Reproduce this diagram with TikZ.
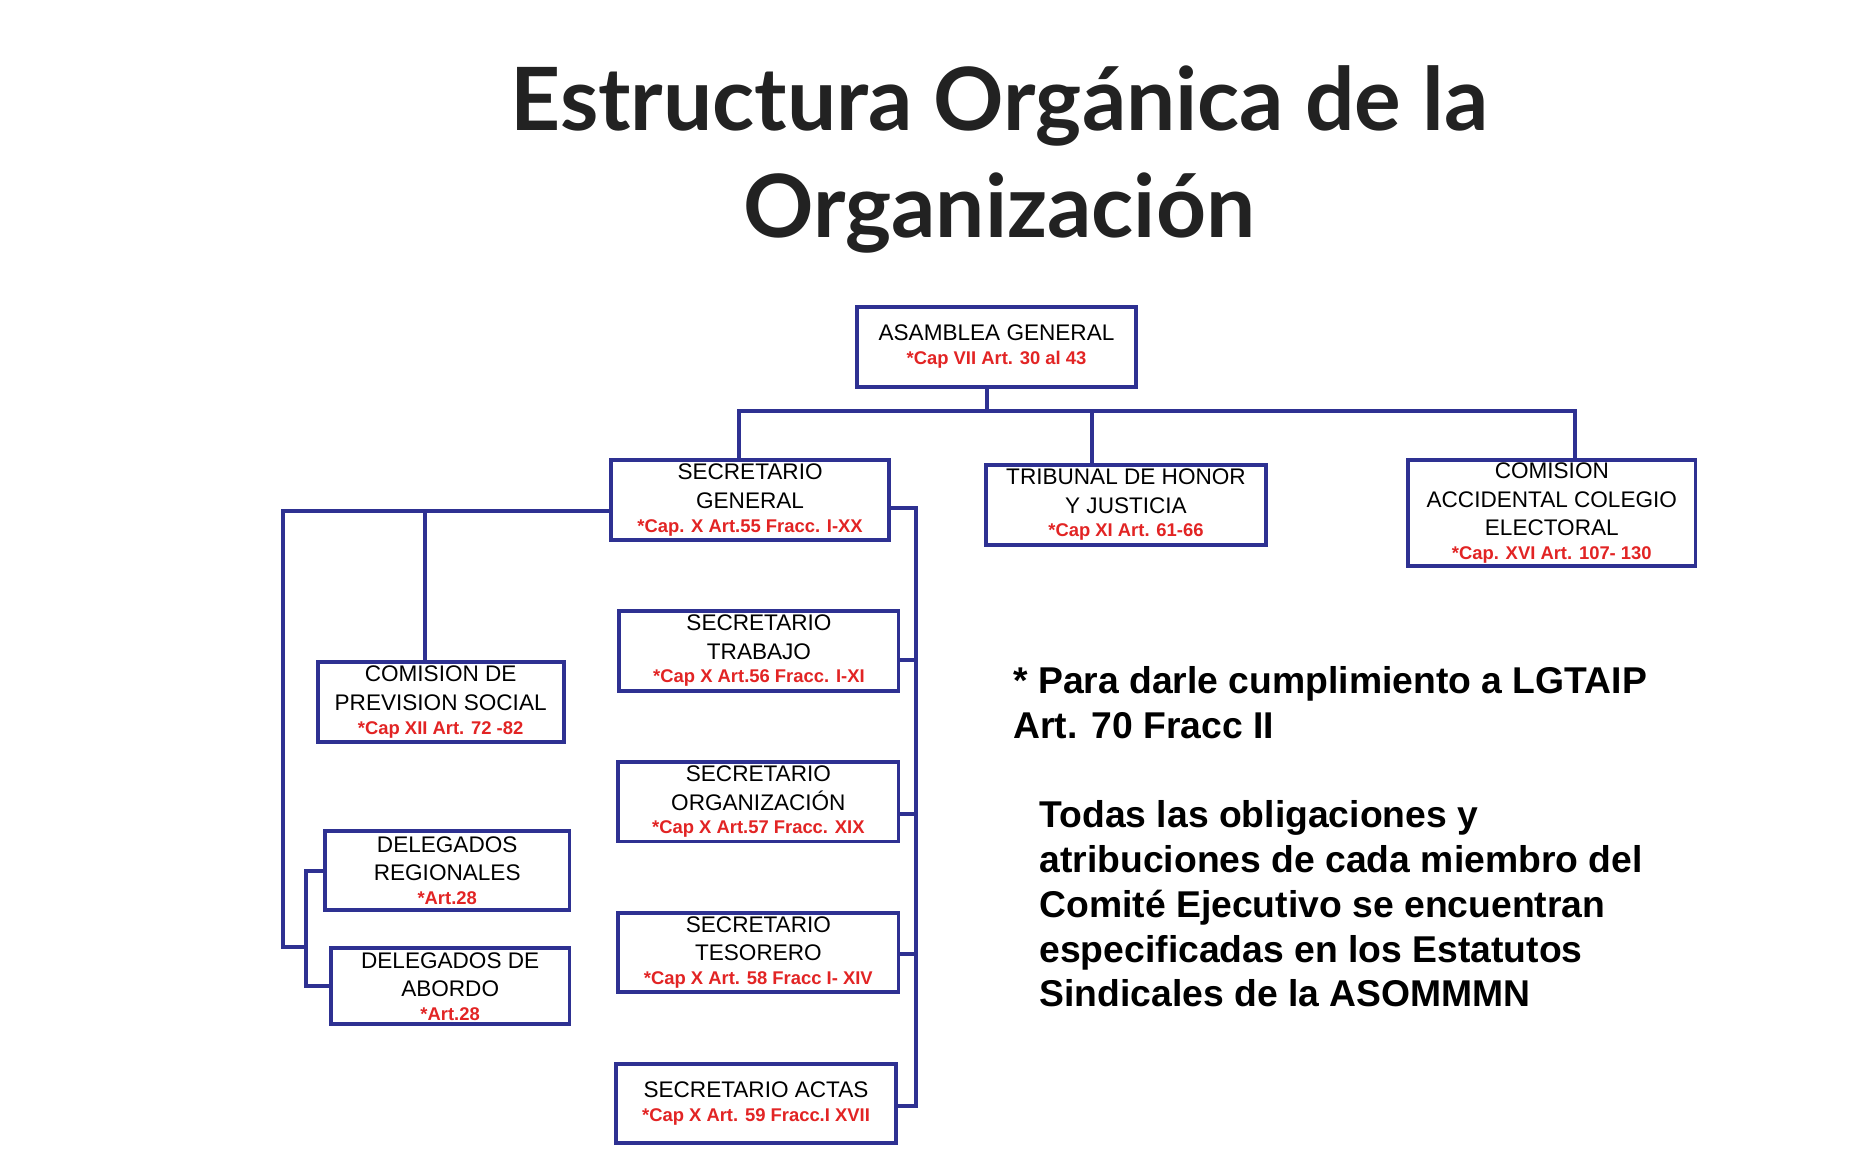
\documentclass[tikz,border=0pt]{standalone}
\usepackage{fontspec}
\setmainfont{Liberation Sans}
\newfontfamily\titlefont{Lato}
\definecolor{navy}{RGB}{46,49,146}
\definecolor{redtext}{RGB}{226,36,36}
\definecolor{titlegray}{RGB}{34,34,34}
\newcommand{\art}[1]{{\bfseries\fontsize{15.5}{19}\selectfont\color{redtext}#1}}

\begin{document}
\begin{tikzpicture}[x=1pt,y=1pt,
    box/.style={draw=navy,line width=3.3pt,fill=white,align=center,inner sep=0pt,
      minimum height=67pt,font=\fontsize{19}{24}\selectfont},
    link/.style={draw=navy,line width=3.3pt},
    note/.style={font=\bfseries\fontsize{31.4}{37.7}\selectfont,align=left,anchor=base west,inner sep=0pt}]

      \useasboundingbox (0,0) rectangle (1566,-985.1);

      \node[font=\titlefont\bfseries\fontsize{73.5}{90}\selectfont,text=titlegray,align=center,anchor=base]
        (title) at (841.5,-200) {Estructura Orgánica de la\\Organización};

      % top level
      \node[box,minimum width=235pt] (asamblea) at (839,-292) {ASAMBLEA GENERAL\\[-4pt]\art{*Cap VII Art. 30 al 43}};
      \node[box,minimum width=234pt] (secgen) at (631.5,-421) {SECRETARIO\\GENERAL\\[-4pt]\art{*Cap. X Art.55 Fracc. I-XX}};
      \node[box,minimum width=235pt] (tribunal) at (948,-425) {TRIBUNAL DE HONOR\\Y JUSTICIA\\[-4pt]\art{*Cap XI Art. 61-66}};
      \node[box,minimum width=242pt,minimum height=89pt] (colegio) at (1306.5,-432) {COMISION\\ACCIDENTAL COLEGIO\\ELECTORAL\\[-4pt]\art{*Cap. XVI Art. 107- 130}};

      % secretarios
      \node[box,minimum width=235pt] (trabajo) at (639,-548) {SECRETARIO\\TRABAJO\\[-4pt]\art{*Cap X Art.56 Fracc. I-XI}};
      \node[box,minimum width=236pt] (organizacion) at (638.5,-675) {SECRETARIO\\ORGANIZACIÓN\\[-4pt]\art{*Cap X Art.57 Fracc. XIX}};
      \node[box,minimum width=236pt] (tesorero) at (638.5,-802) {SECRETARIO\\TESORERO\\[-4pt]\art{*Cap X Art. 58 Fracc I- XIV}};
      \node[box,minimum width=236pt] (actas) at (636.5,-929) {SECRETARIO ACTAS\\[-4pt]\art{*Cap X Art. 59 Fracc.I XVII}};

      % left column
      \node[box,minimum width=207pt] (prevision) at (371,-591) {COMISION DE\\PREVISION SOCIAL\\[-4pt]\art{*Cap XII Art. 72 -82}};
      \node[box,minimum width=206pt] (regionales) at (376.5,-733) {DELEGADOS\\REGIONALES\\[-4pt]\art{*Art.28}};
      \node[box,minimum width=201pt,minimum height=64pt] (abordo) at (379,-830.5) {DELEGADOS DE\\ABORDO\\[-4pt]\art{*Art.28}};

      % connectors from the assembly
      \coordinate (bus) at (831,-346);
      \coordinate (b1) at (622,-346);
      \coordinate (b2) at (1326,-346);
      \coordinate (b3) at (919,-346);
      \draw[link] (bus |- asamblea.south) -- (bus);
      \draw[link] (b1 |- secgen.north) -- (b1) -- (b2) -- (b2 |- colegio.north);
      \draw[link] (b3) -- (b3 |- tribunal.north);

      % right trunk
      \coordinate (d1) at (771,-428);
      \draw[link] ([yshift=-7pt]secgen.east) -- (d1) |- ([yshift=-2pt]actas.east);
      \foreach \n/\dy in {trabajo/-8,organizacion/-10,tesorero/-1}
      \draw[link] ([yshift=\dy pt]\n.east) -- ([yshift=\dy pt]\n.east -| d1);

      % left trunk
      \coordinate (t1) at (238,-797);
      \coordinate (t2) at (258,-797);
      \coordinate (p1) at (358,-430);
      \draw[link] ([yshift=-9pt]secgen.west) -| (t1) -- (t2);
      \draw[link] (p1) -- (p1 |- prevision.north);
      \draw[link] (regionales.west) -| (t2) |- (abordo.west);

      % notes (base = last line)
      \node[note] (nota) at (853,-621.7) {* Para darle cumplimiento a LGTAIP\\Art. 70 Fracc II};
      \node[note] (deberes) at (875,-847.8) {Todas las obligaciones y\\atribuciones de cada miembro del\\Comité Ejecutivo se encuentran\\especificadas en los Estatutos\\Sindicales de la ASOMMMN};

\end{tikzpicture}
\end{document}
